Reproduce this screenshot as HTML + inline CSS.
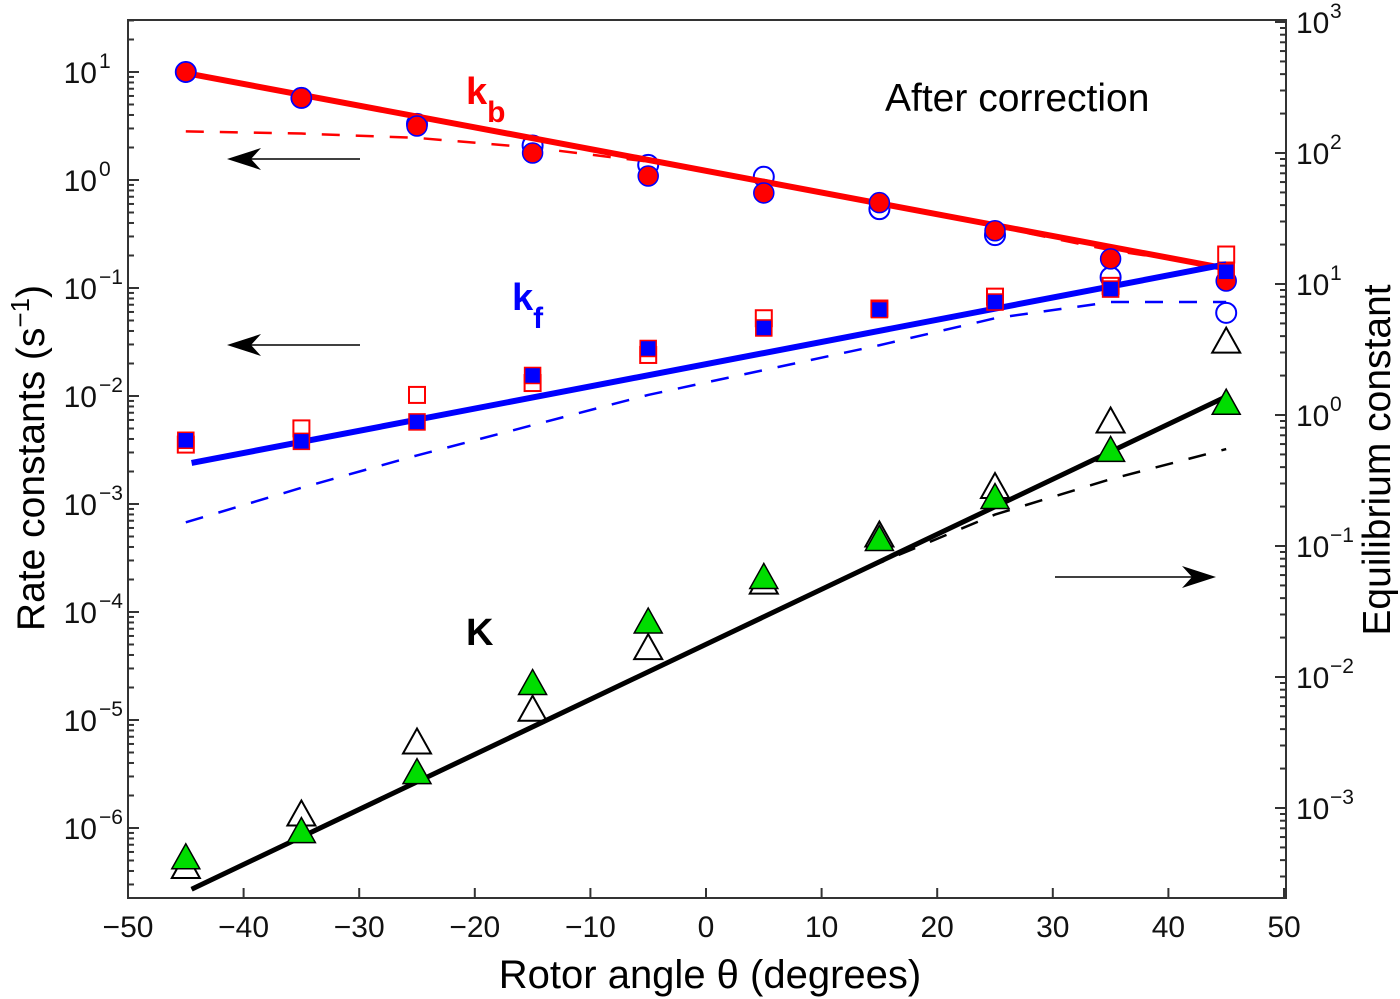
<!DOCTYPE html>
<html><head><meta charset="utf-8"><style>
body{margin:0;background:#fff}
svg{display:block;font-family:"Liberation Sans",sans-serif}
</style></head><body>
<svg id="chart" width="1400" height="999" viewBox="0 0 1400 999"></svg>
<script>
const angles=[-45,-35,-25,-15,-5,5,15,25,35,45];
const kbFilled=[1.0,0.76,0.5,0.25,0.037,-0.12,-0.21,-0.47,-0.73,-0.935];
const kbOpen=[1.0,0.76,0.52,0.32,0.14,0.03,-0.27,-0.51,-0.9,-1.23];
const kfFilled=[-2.41,-2.42,-2.24,-1.81,-1.56,-1.37,-1.20,-1.13,-1.01,-0.85];
const kfOpen=[-2.45,-2.30,-1.99,-1.88,-1.62,-1.28,-1.19,-1.08,-0.98,-0.69];
const KFilled=[-3.38,-3.18,-2.73,-2.05,-1.58,-1.24,-0.95,-0.63,-0.27,0.09];
const KOpen=[-3.45,-3.05,-2.50,-2.25,-1.78,-1.28,-0.92,-0.55,-0.05,0.56];
const kbFitX=[-44.5,45];const kbFit=[0.98,-0.82];
const kfFitX=[-44.5,45];const kfFit=[-2.62,-0.78];
const KFitX=[-44.5,45];const KFit=[-3.62,0.14];
const kbDash=[0.45,0.43,0.39,0.30,0.17,0.0,-0.21,-0.43,-0.65,-0.81];
const kfDash=[-3.17,-2.85,-2.55,-2.27,-1.99,-1.76,-1.53,-1.28,-1.13,-1.13];
const KDashX=[-44.5,5,15,25,35,45];const KDash=[-3.62,-1.54,-1.13,-0.76,-0.49,-0.26];
const xTicks=[-50,-40,-30,-20,-10,0,10,20,30,40,50];
const leftExp=[1,0,-1,-2,-3,-4,-5,-6];
const rightExp=[3,2,1,0,-1,-2,-3];

const L=128,R=1286,T=20,B=898;
const X=v=>706+v*11.56;
const YL=lg=>180-lg*108;
const YR=lg=>415-lg*131;
const svg=document.getElementById('chart');
const NS='http://www.w3.org/2000/svg';
function mk(tag,at,parent){const e=document.createElementNS(NS,tag);for(const k in at)e.setAttribute(k,at[k]);(parent||svg).appendChild(e);return e;}

let fr=mk('rect',{x:L,y:T,width:R-L,height:B-T,fill:'none',stroke:'#333','stroke-width':2});



xTicks.forEach(t=>{
  let l=mk('line',{x1:X(t),x2:X(t),y1:B,y2:B-10,stroke:'#333','stroke-width':2});
  
  
  let tx=mk('text',{x:X(t),y:B+39,'font-size':30,'text-anchor':'middle',fill:'#111'});
  tx.textContent=(t<0?'\u2212'+(-t):t);
  
  
});
for(let e=-7;e<=1;e++){
  for(let m=1;m<10;m++){
    const y=YL(e+Math.log10(m));
    if(y<T||y>B)continue;
    let l=mk('line',{x1:L,x2:L+(m==1?11:6),y1:y,y2:y,stroke:'#333','stroke-width':2});
    
    
  }
}
leftExp.forEach(e=>{
  let tx=mk('text',{x:97,y:YL(e)+11,'font-size':30,'text-anchor':'end',fill:'#111'});
  tx.textContent='10';
  
  
  let s=mk('text',{x:99,y:YL(e)-4,'font-size':21,fill:'#111'});
  s.textContent=(e<0?'\u2212'+(-e):e);
  
  
});
for(let e=-4;e<=3;e++){
  for(let m=1;m<10;m++){
    const y=YR(e+Math.log10(m));
    if(y<T||y>B)continue;
    let l=mk('line',{x1:R,x2:R-(m==1?11:6),y1:y,y2:y,stroke:'#333','stroke-width':2});
    
    
  }
}
rightExp.forEach(e=>{
  let tx=mk('text',{x:1296,y:YR(e)+11,'font-size':30,fill:'#111'});
  tx.textContent='10';
  
  
  let s=mk('text',{x:1330,y:YR(e)-4,'font-size':21,fill:'#111'});
  s.textContent=(e<0?'\u2212'+(-e):e);
  
  
});

function path(xs,ys,Y,attrs,name){
  const d=xs.map((x,i)=>(i?'L':'M')+X(x)+' '+Y(ys[i])).join(' ');
  let p=mk('path',Object.assign({d:d,fill:'none'},attrs));
  
  
}
path(angles,kbDash,YL,{stroke:'#f00','stroke-width':2.5,'stroke-dasharray':'18,16'},'kb-dashed-curve');
path(angles,kfDash,YL,{stroke:'#00f','stroke-width':2.5,'stroke-dasharray':'18,16'},'kf-dashed-curve');
path(KDashX,KDash,YR,{stroke:'#000','stroke-width':2.5,'stroke-dasharray':'18,16'},'K-dashed-curve');

function circ(xs,ys,Y,attrs,name){xs.forEach((x,i)=>{let c=mk('circle',Object.assign({cx:X(x),cy:Y(ys[i]),r:10},attrs));});}
function sq(xs,ys,Y,attrs,name){xs.forEach((x,i)=>{let c=mk('rect',Object.assign({x:X(x)-8,y:Y(ys[i])-8,width:16,height:16},attrs));});}
function tri(xs,ys,Y,attrs,name){xs.forEach((x,i)=>{const cx=X(x),cy=Y(ys[i]);let c=mk('polygon',Object.assign({points:`${cx-14},${cy+11} ${cx+14},${cy+11} ${cx},${cy-14}`},attrs));});}

circ(angles,kbOpen,YL,{fill:'none',stroke:'#00f','stroke-width':2},'kb-open-circle');
sq(angles,kfOpen,YL,{fill:'none',stroke:'#f00','stroke-width':2},'kf-open-square');
tri(angles,KOpen,YR,{fill:'none',stroke:'#000','stroke-width':2},'K-open-triangle');

path(kbFitX,kbFit,YL,{stroke:'#f00','stroke-width':6},'kb-fit-line');
path(kfFitX,kfFit,YL,{stroke:'#00f','stroke-width':6},'kf-fit-line');
path(KFitX,KFit,YR,{stroke:'#000','stroke-width':5},'K-fit-line');

circ(angles,kbFilled,YL,{fill:'#f00',stroke:'#00f','stroke-width':1.5},'kb-filled-circle');
sq(angles,kfFilled,YL,{fill:'#00f',stroke:'#f00','stroke-width':1.5},'kf-filled-square');
tri(angles,KFilled,YR,{fill:'#0d0',stroke:'#000','stroke-width':1.5},'K-filled-triangle');

function arrow(x1,x2,y,name){
  let g=mk('g',{});
  
  
  const dir=x2>x1?1:-1;
  mk('line',{x1:x1,x2:x2-dir*10,y1:y,y2:y,stroke:'#000','stroke-width':1.5},g);
  mk('polygon',{points:`${x2},${y} ${x2-dir*34},${y-11} ${x2-dir*24},${y} ${x2-dir*34},${y+11}`,fill:'#000'},g);
}
arrow(360,227,159,'kb-axis-arrow');
arrow(360,227,345,'kf-axis-arrow');
arrow(1055,1216,577,'K-axis-arrow');
</script>
<svg style="position:absolute;left:0;top:0" width="1400" height="999">
<text x="885" y="111" font-size="39" fill="#000" font-family="Liberation Sans,sans-serif">After correction</text>
<text x="466" y="104" font-size="38" font-weight="bold" fill="#f00" font-family="Liberation Sans,sans-serif">k<tspan font-size="30" dy="18">b</tspan></text>
<text x="512" y="310" font-size="38" font-weight="bold" fill="#00f" font-family="Liberation Sans,sans-serif">k<tspan font-size="30" dy="18">f</tspan></text>
<text x="466" y="645" font-size="38" font-weight="bold" fill="#000" font-family="Liberation Sans,sans-serif">K</text>
<text x="710" y="988" font-size="40" text-anchor="middle" fill="#000" font-family="Liberation Sans,sans-serif">Rotor angle θ (degrees)</text>
<text transform="translate(44,458) rotate(-90)" font-size="39" text-anchor="middle" fill="#000" font-family="Liberation Sans,sans-serif">Rate constants (s<tspan font-size="26" dy="-15">−1</tspan><tspan dy="15">)</tspan></text>
<text transform="translate(1390,460) rotate(-90)" font-size="39" text-anchor="middle" fill="#000" font-family="Liberation Sans,sans-serif">Equilibrium constant</text>
</svg>
</body></html>
